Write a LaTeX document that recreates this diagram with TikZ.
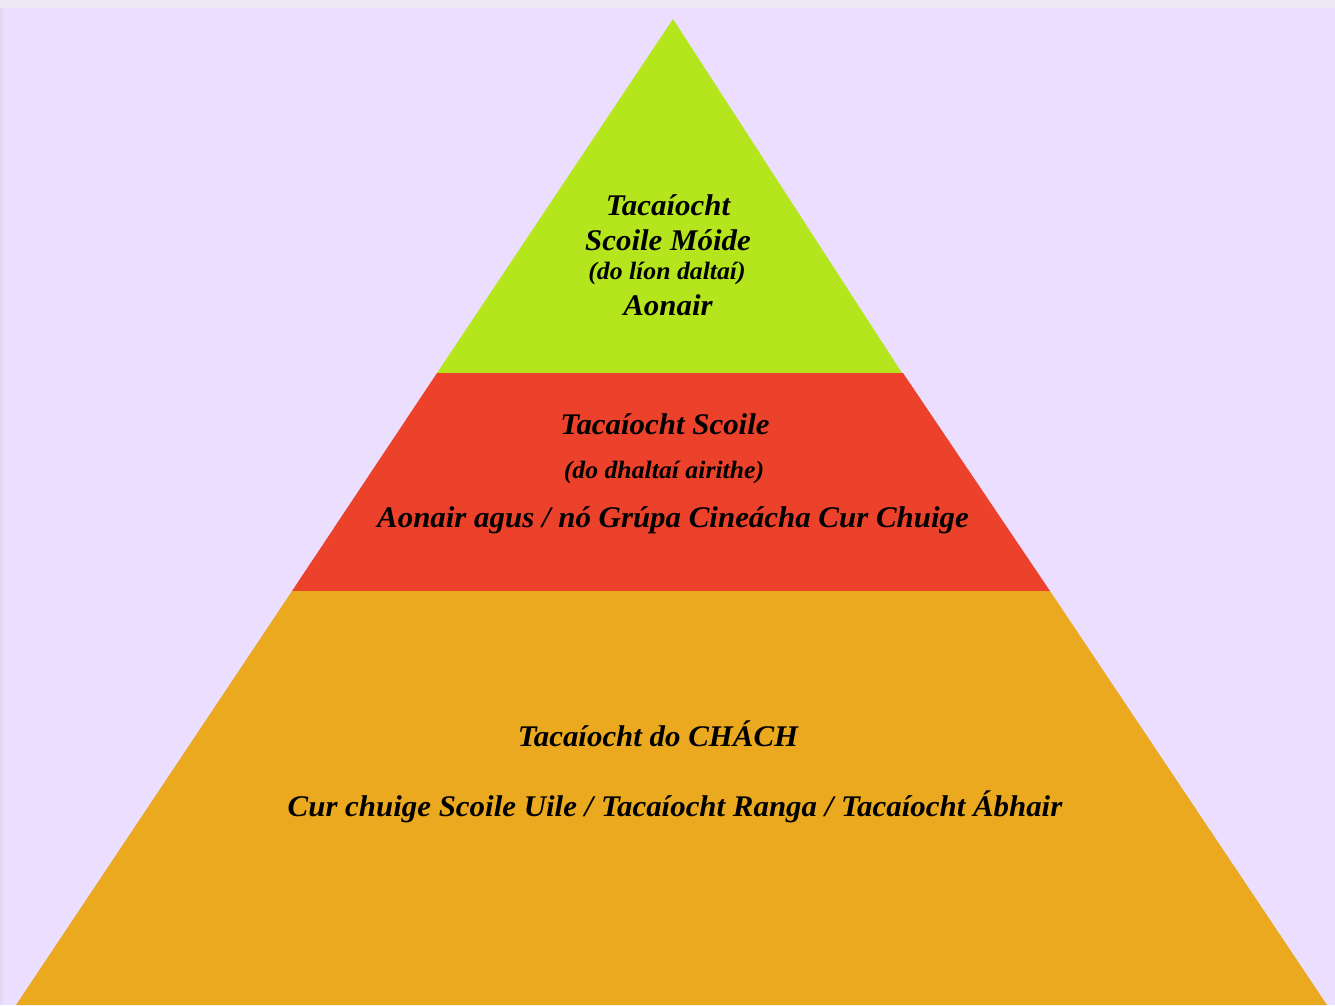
\documentclass[tikz,border=0pt]{standalone}
\usepackage{fontspec}
\setmainfont{Liberation Serif}
\definecolor{bgl}{HTML}{EBDEFE}
\definecolor{topstrip}{HTML}{ECE8F6}
\definecolor{leftstrip}{HTML}{E2DAF2}
\definecolor{tgreen}{HTML}{B5E61D}
\definecolor{tred}{HTML}{EC412B}
\definecolor{torange}{HTML}{EBA920}
\newcommand{\widetxt}[1]{\scalebox{1.03}[1]{#1}}
\begin{document}
\begin{tikzpicture}[x=1pt,y=-1pt,
  lbl/.style={inner sep=0pt, font=\fontsize{30}{32}\selectfont\bfseries\itshape},
  sub/.style={inner sep=0pt, font=\fontsize{25}{27}\selectfont\bfseries\itshape}]
\useasboundingbox (0,0) rectangle (1335,1005);
\fill[bgl] (0,0) rectangle (1335,1005);
\fill[topstrip] (0,0) rectangle (1335,8);
\fill[leftstrip] (0,8) rectangle (3,1005);
% tiers
\fill[tgreen] (673,19) -- (437,373) -- (902,373) -- cycle;
\fill[tred] (437,373) -- (903,373) -- (1050,591) -- (292,591) -- cycle;
\fill[torange] (292,591) -- (1050,591) -- (1327,1005) -- (16,1005) -- cycle;
% texts
\node[lbl] (g1) at (668,205) {\widetxt{Tacaíocht}};
\node[lbl] (g2) at (668,240) {\widetxt{Scoile Móide}};
\node[sub] (g3) at (667,273) {\widetxt{(do líon daltaí)}};
\node[lbl] (g4) at (668,305) {\widetxt{Aonair}};
\node[lbl] (r1) at (665,424) {\widetxt{Tacaíocht Scoile}};
\node[sub] (r2) at (664,472) {\widetxt{(do dhaltaí airithe)}};
\node[lbl] (r3) at (673,520) {\widetxt{Aonair agus / nó Grúpa Cineácha Cur Chuige}};
\node[lbl] (o1) at (658,734) {\widetxt{Tacaíocht do CHÁCH}};
\node[lbl] (o2) at (675,807) {\widetxt{Cur chuige Scoile Uile / Tacaíocht Ranga / Tacaíocht Ábhair}};
\end{tikzpicture}
\end{document}
